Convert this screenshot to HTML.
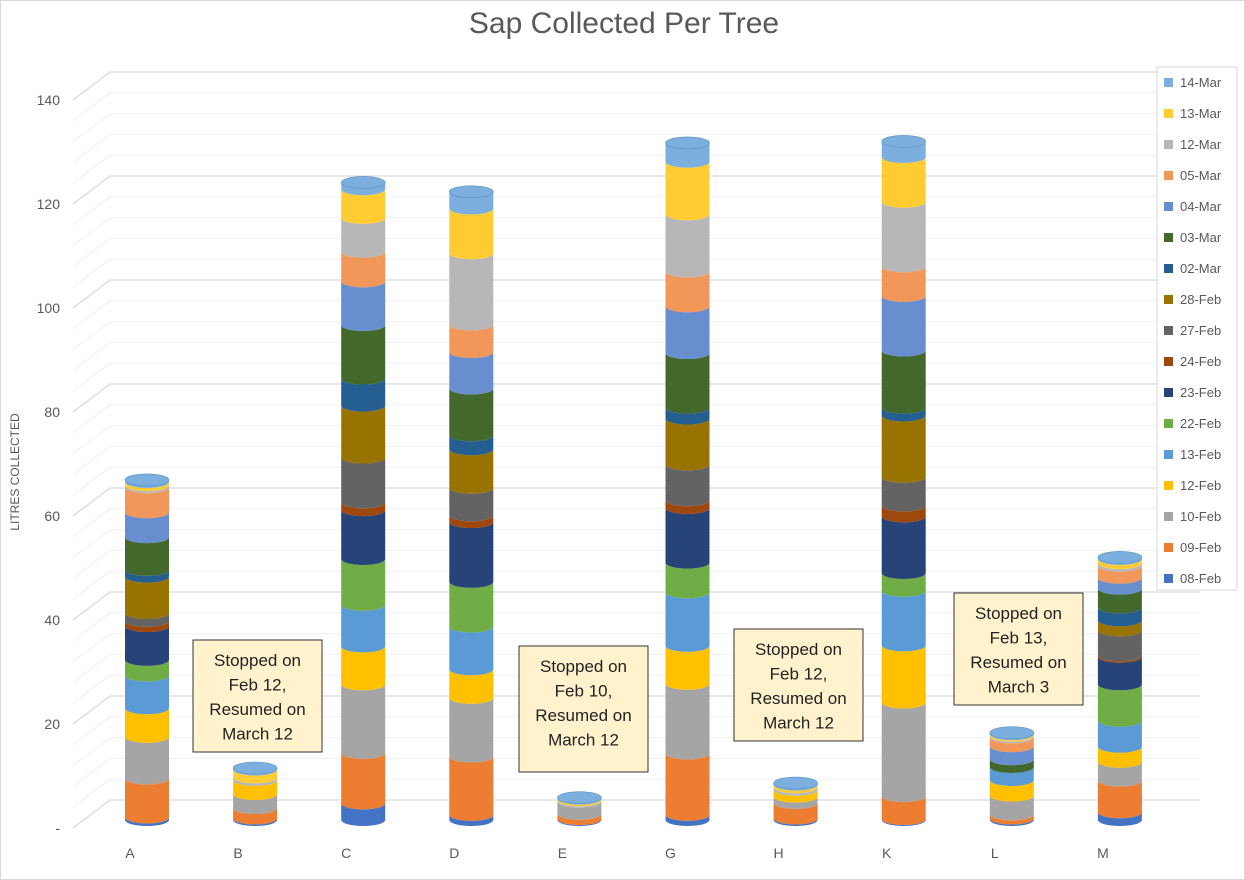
<!DOCTYPE html>
<html><head><meta charset="utf-8"><style>
body{margin:0;background:#fff;font-family:"Liberation Sans",Arial,sans-serif}
svg{display:block}
</style></head><body>
<svg id="chart" width="1245" height="880" viewBox="0 0 1245 880" xmlns="http://www.w3.org/2000/svg">
<rect x="0.5" y="0.5" width="1244" height="879" fill="#fff" stroke="#d9d9d9"/>
<text x="624" y="33" text-anchor="middle" font-size="30" fill="#595959">Sap Collected Per Tree</text>
<text transform="translate(19,472) rotate(-90)" text-anchor="middle" font-size="12" fill="#595959">LITRES COLLECTED</text>
<g id="grid"></g>
<g id="yticks"></g>
<g id="bars"></g>
<g id="xlabels"></g>
<g id="notes"></g>
<g id="legend"></g>
</svg>
<script>
const categories=["A","B","C","D","E","G","H","K","L","M"];
const seriesNames=["08-Feb","09-Feb","10-Feb","12-Feb","13-Feb","22-Feb","23-Feb","24-Feb","27-Feb","28-Feb","02-Mar","03-Mar","04-Mar","05-Mar","12-Mar","13-Mar","14-Mar"];
const colors=["#4472C4","#ED7D31","#A5A5A5","#FFC000","#5B9BD5","#70AD47","#264478","#9E480E","#636363","#997300","#255E91","#43682B","#698ED0","#F1975A","#B7B7B7","#FFCD33","#7CAFDD"];
const vA=[0.5,7.5,8,5.5,6.3,3,6.5,1,1.5,7,1.3,6.3,4.8,4.8,0.4,0.6,0.4];
const vB=[0.3,2,2.7,2.7,0,0,0,0,0,0,0,0,0,0,0.5,1.5,0.3];
const vC=[3.2,9.7,13.2,7.3,8,8.8,9.4,1.5,8.6,10,5.2,10.3,8.4,5.7,6.5,5.5,1.3];
const vD=[1,11.2,11.3,5.5,8.2,8.6,11.5,1.3,5.3,7.4,2.7,9,7,5.3,13.7,8.6,3.2];
const vE=[0.2,1,2.3,0,0,0,0,0,0,0,0,0,0,0,0.3,0.3,0.2];
const vG=[1,11.8,13.4,7.3,10.3,5.7,10.5,1.5,6.9,8.8,2.1,10.5,9,6.7,11,10.1,3.6];
const vH=[0.3,3,1.2,1.3,0,0,0,0,0,0,0,0,0,0,0.5,0.5,0.3];
const vK=[0.2,4.4,18,11,10.5,3.4,10.9,2.1,5.5,11.8,1.5,11,10.5,5.7,12.4,8.6,3];
const vL=[0.3,0.8,3.6,3,2.5,0,0,0,0,0,0,1.5,2.5,1.7,0.3,0.3,0.3];
const vM=[1.5,6.1,3.6,2.9,5,7,5.3,0.3,4.8,1.9,2.5,3.6,2.1,2.3,0.5,0.8,0.3];
const values=[vA,vB,vC,vD,vE,vG,vH,vK,vL,vM];
const yTicks=[0,20,40,60,80,100,120,140];
const yTickLabels=["-","20","40","60","80","100","120","140"];
const NS="http://www.w3.org/2000/svg";
function mk(tag,attrs,parent){const e=document.createElementNS(NS,tag);for(const k in attrs)e.setAttribute(k,attrs[k]);parent.appendChild(e);return e;}
const base=820, k=5.2;
function y(v){return base-v*k;}
function x(i){return 147+i*108.1;}
const grid=document.getElementById('grid');
for(let v=0;v<=140;v+=4){
  const by=800-v*5.2, major=(v%20===0);
  const col=major?"#d9d9d9":"#f0f0f0";
  const l1=mk('line',{x1:110,y1:by,x2:1200,y2:by,stroke:col,'stroke-width':major?1.3:1},grid);
  
  
  const l2=mk('line',{x1:73,y1:by+28,x2:110,y2:by,stroke:col,'stroke-width':major?1.3:1},grid);
  
  
}
const yt=document.getElementById('yticks');
yTicks.forEach((v,i)=>{const t=mk('text',{x:60,y:800-v*5.2+28+5,'text-anchor':'end','font-size':14,fill:'#595959'},yt);t.textContent=yTickLabels[i];

});
const bars=document.getElementById('bars');const W=22,ry=6;
values.forEach((vals,i)=>{
  const cx=x(i);let acc=0;
  const g=mk('g',{},bars);
  
  
  vals.forEach((v,s)=>{
    if(v<=0)return;
    const y0=y(acc),y1=y(acc+v);acc+=v;
    const p=mk('path',{d:`M${cx-W},${y1} L${cx-W},${y0} A${W},${ry} 0 0 0 ${cx+W},${y0} L${cx+W},${y1} A${W},${ry} 0 0 1 ${cx-W},${y1} Z`,fill:colors[s]},g);
    
    
  });
  const top=mk('ellipse',{cx:cx,cy:y(acc),rx:W,ry:ry,fill:'#7CAFDD',stroke:'#5a8fc0','stroke-width':0.6},g);
  
  
  const t=mk('text',{x:cx-17,y:858,'text-anchor':'middle','font-size':14,fill:'#595959'},document.getElementById('xlabels'));
  t.textContent=categories[i];
  
  
});
const notes=[[193,640,"Stopped on|Feb 12,|Resumed on|March 12"],[519,646,"Stopped on|Feb 10,|Resumed on|March 12"],[734,629,"Stopped on|Feb 12,|Resumed on|March 12"],[954,593,"Stopped on|Feb 13,|Resumed on|March 3"]];
const ng=document.getElementById('notes');
notes.forEach(n=>{
  const g=mk('g',{},ng);
  
  
  const h=n[0]===519?126:112;
  mk('rect',{x:n[0],y:n[1],width:129,height:h,fill:'#FFF2CC',stroke:'#333','stroke-width':1},g);
  n[2].split('|').forEach((s,j)=>{const t=mk('text',{x:n[0]+64.5,y:n[1]+26+j*24.5,'text-anchor':'middle','font-size':17,fill:'#222'},g);t.textContent=s;});
});
const lg=document.getElementById('legend');
mk('rect',{x:1157,y:67,width:80,height:523,fill:'#fff',stroke:'#d9d9d9'},lg);
for(let s=seriesNames.length-1,j=0;s>=0;s--,j++){
  const yy=82+j*31;
  const g=mk('g',{},lg);
  
  
  mk('rect',{x:1164,y:yy-4,width:9,height:9,fill:colors[s]},g);
  const t=mk('text',{x:1180,y:yy+5,'font-size':13,fill:'#595959'},g);t.textContent=seriesNames[s];
}
</script>
</body></html>
